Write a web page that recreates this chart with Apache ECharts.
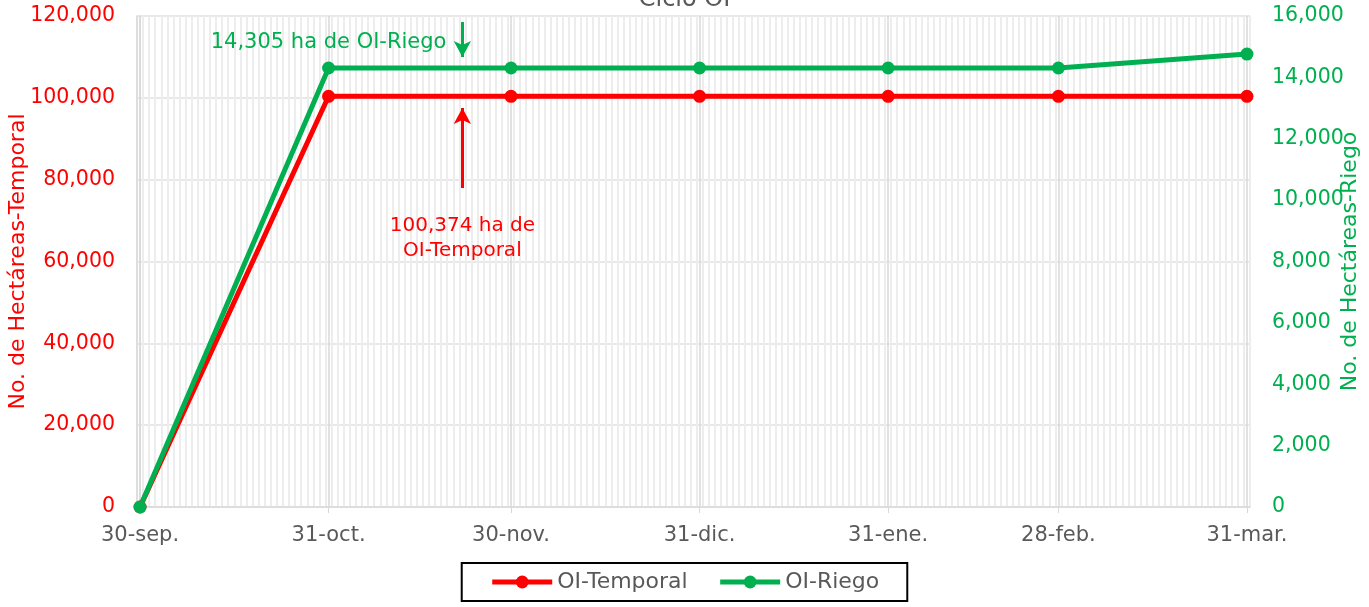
<!DOCTYPE html>
<html>
<head>
<meta charset="utf-8">
<script src="https://cdn.jsdelivr.net/npm/echarts@6/dist/echarts.min.js"></script>
<style>
html,body{margin:0;padding:0;background:#fff;}
#chart{width:1369px;height:607px;}
</style>
</head>
<body>
<div id="chart"></div>
<script>
// ---- data ----
const dates = ['2022-09-30','2022-10-31','2022-11-30','2022-12-31','2023-01-31','2023-02-28','2023-03-31'];
const tickLabels = ['30-sep.','31-oct.','30-nov.','31-dic.','31-ene.','28-feb.','31-mar.'];
const temporal = [0, 100374, 100374, 100374, 100374, 100374, 100374];
const riego = [0, 14305, 14305, 14305, 14305, 14305, 14760];
const seriesNames = ['OI-Temporal', 'OI-Riego'];
const titleText = 'Ciclo OI';
const leftAxisName = 'No. de Hectáreas-Temporal';
const rightAxisName = 'No. de Hectáreas-Riego';
// annotations (date, value)
const riegoNote = '14,305 ha de OI-Riego';
const riegoNotePos = ['2022-10-31', 15120];
const riegoArrow = [['2022-11-22', 15805], ['2022-11-22', 14664]];
const temporalNote = '100,374 ha de\nOI-Temporal';
const temporalNotePos = ['2022-11-22', 65700];
const temporalArrow = [['2022-11-22', 77963], ['2022-11-22', 97515]];

const RED = '#ff0000', GREEN = '#00b050', GRAY = '#595959';
const FONT = 'DejaVu Sans';

const DAY = 86400000;
const t0 = Date.UTC(2022, 8, 30);
const dayOf = s => { const [y, m, d] = s.split('-').map(Number); return Math.round((Date.UTC(y, m - 1, d) - t0) / DAY); };
const xs = dates.map(dayOf);
const lastDay = xs[xs.length - 1];
const fmt = v => Number(v).toLocaleString('en-US');
const pt = p => [dayOf(p[0]), p[1]];

const chart = echarts.init(document.getElementById('chart'));
chart.setOption({
  animation: false,
  textStyle: { fontFamily: FONT },
  title: {
    text: titleText, left: 'center', top: -17,
    textStyle: { color: GRAY, fontSize: 24, fontWeight: 'normal', fontFamily: FONT }
  },
  grid: { left: 137, right: 119, top: 16, bottom: 100, outerBoundsMode: 'none', containLabel: false },
  legend: {
    data: seriesNames,
    left: 'center', top: 563,
    borderColor: '#000', borderWidth: 2,
    padding: [8, 28],
    itemWidth: 60, itemHeight: 16, itemGap: 30,
    lineStyle: { width: 5 },
    textStyle: { color: GRAY, fontSize: 22, fontFamily: FONT }
  },
  xAxis: [
    {
      type: 'value', min: -0.5, max: lastDay + 0.5,
      axisLine: { show: true, lineStyle: { color: '#d9d9d9', width: 1.5 } },
      axisTick: { show: true, length: 6, lineStyle: { color: '#d9d9d9' }, customValues: xs },
      splitLine: { show: true, lineStyle: { color: '#d9d9d9', width: 1.5 } },
      axisLabel: {
        customValues: xs, margin: 18, color: GRAY, fontSize: 21, fontFamily: FONT,
        formatter: v => { const i = xs.indexOf(Math.round(v)); return i >= 0 ? tickLabels[i] : ''; }
      }
    },
    {
      type: 'value', min: 0, max: lastDay + 1, interval: 1, position: 'bottom',
      axisLine: { show: false }, axisTick: { show: false }, axisLabel: { show: false },
      splitLine: { show: true, lineStyle: { color: '#ededed', width: 2 } }
    }
  ],
  yAxis: [
    {
      type: 'value', min: 0, max: 120000, interval: 20000,
      name: leftAxisName, nameLocation: 'middle', nameGap: 108, nameRotate: 90, nameMoveOverlap: false,
      nameTextStyle: { color: RED, fontSize: 22, fontFamily: FONT },
      axisLine: { show: true, lineStyle: { color: '#d9d9d9', width: 1.5 } },
      axisTick: { show: false },
      splitLine: { show: true, lineStyle: { color: '#e0e0e0', width: 1.5 } },
      axisLabel: { color: RED, fontSize: 20.5, margin: 22, formatter: fmt, fontFamily: FONT }
    },
    {
      type: 'value', min: 0, max: 16000, interval: 2000, position: 'right',
      name: rightAxisName, nameLocation: 'middle', nameGap: 89, nameRotate: 90, nameMoveOverlap: false,
      nameTextStyle: { color: GREEN, fontSize: 22, fontFamily: FONT },
      axisLine: { show: true, lineStyle: { color: '#d9d9d9', width: 1.5 } },
      axisTick: { show: false },
      splitLine: { show: false },
      axisLabel: { color: GREEN, fontSize: 20.5, margin: 22, formatter: fmt, fontFamily: FONT }
    }
  ],
  series: [
    {
      name: seriesNames[0], type: 'line', xAxisIndex: 0, yAxisIndex: 0,
      data: xs.map((x, i) => [x, temporal[i]]),
      symbol: 'circle', symbolSize: 13,
      lineStyle: { color: RED, width: 5 }, itemStyle: { color: RED },
      markLine: {
        silent: true, symbol: ['none', 'arrow'], symbolSize: [13, 16],
        lineStyle: { color: RED, width: 3, type: 'solid' },
        label: { show: false },
        data: [[{ coord: pt(temporalArrow[0]) }, { coord: pt(temporalArrow[1]) }]]
      },
      markPoint: {
        silent: true,
        data: [{
          coord: pt(temporalNotePos), symbol: 'circle', symbolSize: 1,
          itemStyle: { color: 'rgba(0,0,0,0)' },
          label: { show: true, position: 'inside', formatter: temporalNote, color: RED, fontSize: 20, lineHeight: 25, fontFamily: FONT }
        }]
      }
    },
    {
      name: seriesNames[1], type: 'line', xAxisIndex: 0, yAxisIndex: 1,
      data: xs.map((x, i) => [x, riego[i]]),
      symbol: 'circle', symbolSize: 13,
      lineStyle: { color: GREEN, width: 5 }, itemStyle: { color: GREEN },
      markLine: {
        silent: true, symbol: ['none', 'arrow'], symbolSize: [13, 16],
        lineStyle: { color: GREEN, width: 3, type: 'solid' },
        label: { show: false },
        data: [[{ coord: pt(riegoArrow[0]) }, { coord: pt(riegoArrow[1]) }]]
      },
      markPoint: {
        silent: true,
        data: [{
          coord: pt(riegoNotePos), symbol: 'circle', symbolSize: 1,
          itemStyle: { color: 'rgba(0,0,0,0)' },
          label: { show: true, position: 'inside', formatter: riegoNote, color: GREEN, fontSize: 21, fontFamily: FONT }
        }]
      }
    }
  ]
});
</script>
</body>
</html>
